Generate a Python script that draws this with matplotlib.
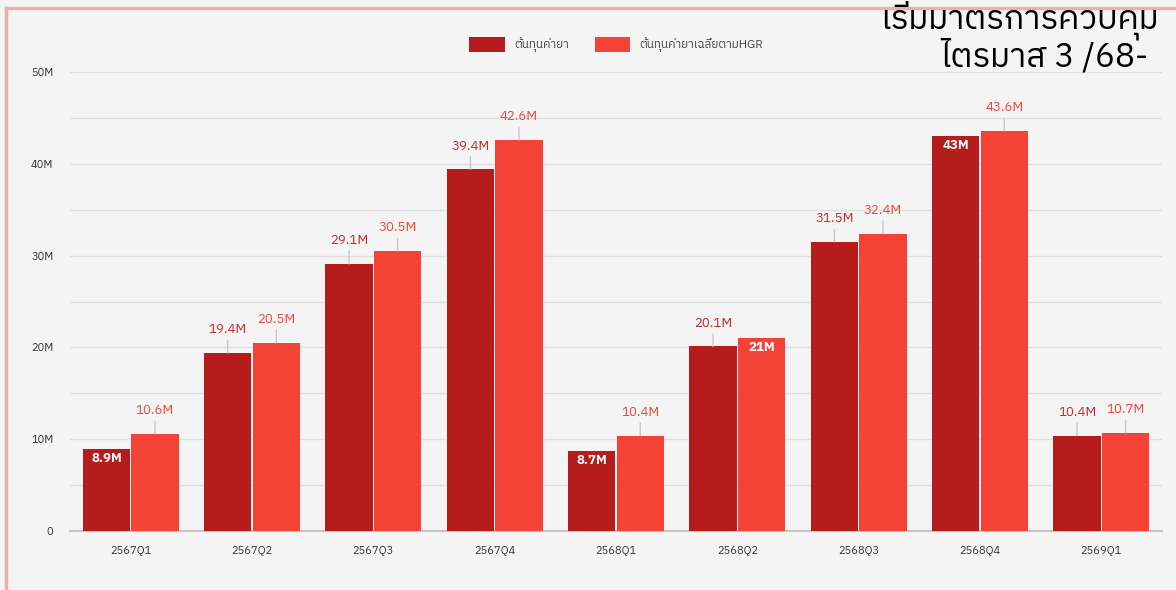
import numpy as np
import matplotlib
matplotlib.use('Agg')
import matplotlib.pyplot as plt
from matplotlib import font_manager
from matplotlib.ft2font import FT2Font
from matplotlib.ticker import FuncFormatter, MultipleLocator

###########################################################################
# Data
###########################################################################
quarters = ['2567Q1', '2567Q2', '2567Q3', '2567Q4', '2568Q1',
            '2568Q2', '2568Q3', '2568Q4', '2569Q1']
costDrug = [8.9, 19.4, 29.1, 39.4, 8.7, 20.1, 31.5, 43.0, 10.4]
costDrugHGR = [10.6, 20.5, 30.5, 42.6, 10.4, 21.0, 32.4, 43.6, 10.7]
labelsDrug = ['8.9M', '19.4M', '29.1M', '39.4M', '8.7M', '20.1M', '31.5M', '43M', '10.4M']
labelsHGR = ['10.6M', '20.5M', '30.5M', '42.6M', '10.4M', '21M', '32.4M', '43.6M', '10.7M']
insideDrug = [0, 4, 7]   # labels drawn inside the bar
insideHGR = [5]
seriesNames = ['ต้นทุนค่ายา', 'ต้นทุนค่ายาเฉลี่ยตามHGR']
noteLine1 = 'เริ่มมาตรการควบคุม'
noteLine2 = 'ไตรมาส 3 /68-'

###########################################################################
# Find a font with thai glyphs
###########################################################################
thaiFamily = None
for f in font_manager.fontManager.ttflist:
    try:
        if ord('ไ') in FT2Font(f.fname).get_charmap():
            thaiFamily = f.name
            if 'Thai' in f.name:
                break
    except Exception:
        pass
families = ([thaiFamily] if thaiFamily else []) + ['DejaVu Sans']
plt.rcParams['font.family'] = families

darkRed = '#b71c1c'
lightRed = '#f44336'
bg = '#f4f4f4'

###########################################################################
# Plot
###########################################################################
fig = plt.figure(figsize=(11.76, 5.9), dpi=100, facecolor=bg)
ax = fig.add_axes([70/1176, 59/590, 1092/1176, 459/590], facecolor=bg)

x = np.arange(len(quarters))
w = 0.4
bars1 = ax.bar(x - w/2, np.array(costDrug)*1e6, width=w - 0.01, color=darkRed, label=seriesNames[0], zorder=3)
bars2 = ax.bar(x + w/2, np.array(costDrugHGR)*1e6, width=w - 0.01, color=lightRed, label=seriesNames[1], zorder=3)

def addLabels(bars, labels, inside, txtColor, barColor):
    for i, (b, lab) in enumerate(zip(bars, labels)):
        cx = b.get_x() + b.get_width()/2
        top = b.get_height()
        if i in inside:
            ax.annotate(lab, (cx, top), xytext=(0, -2), textcoords='offset points',
                        ha='center', va='top', color='white', fontsize=9.5, fontweight='bold',
                        bbox=dict(boxstyle='square,pad=0.1', fc=barColor, ec='none'), zorder=5)
        else:
            ax.annotate(lab, (cx, top), xytext=(0, 12), textcoords='offset points',
                        ha='center', va='bottom', color=txtColor, fontsize=9.5,
                        arrowprops=dict(arrowstyle='-', color='#c8c8c8', lw=1, shrinkA=1, shrinkB=0),
                        zorder=5)

addLabels(bars1, labelsDrug, insideDrug, '#c62828', darkRed)
addLabels(bars2, labelsHGR, insideHGR, lightRed, lightRed)

ax.set_xlim(-0.5, len(quarters) - 0.5)
ax.set_ylim(0, 50e6)
ax.yaxis.set_major_locator(MultipleLocator(10e6))
ax.yaxis.set_minor_locator(MultipleLocator(5e6))
ax.yaxis.set_major_formatter(FuncFormatter(lambda v, p: '0' if v == 0 else '%dM' % (v/1e6)))
ax.set_xticks(x)
ax.set_xticklabels(quarters)
ax.tick_params(axis='both', which='both', length=0, labelsize=8, colors='#333333')
ax.tick_params(axis='x', pad=10)
ax.tick_params(axis='y', pad=12)
ax.grid(axis='y', which='both', color='#e0e0e0', lw=1, zorder=0)
for s in ['top', 'right', 'left']:
    ax.spines[s].set_visible(False)
ax.spines['bottom'].set_color('#c4c4c4')
ax.spines['bottom'].set_linewidth(1.5)

fig.legend(loc='center', bbox_to_anchor=(0.524, 0.924), ncol=2, frameon=False,
           fontsize=8.5, handlelength=3.0, handleheight=1.5, columnspacing=2.2,
           labelcolor='#444444')

# slide frame & overlay text
fig.add_artist(plt.Line2D([6/1176, 1], [1 - 8/590, 1 - 8/590], color='#e8b0b0', lw=2.5, transform=fig.transFigure))
fig.add_artist(plt.Line2D([6/1176, 6/1176], [0, 1 - 8/590], color='#e8b0b0', lw=2.5, transform=fig.transFigure))
fig.text(880/1176, 1 - 1/590, noteLine1, fontsize=24, color='black', ha='left', va='top')
fig.text(940/1176, 1 - 66/590, noteLine2, fontsize=24, color='black', ha='left', va='baseline')

fig.savefig('out.png', dpi=100, facecolor=bg)
